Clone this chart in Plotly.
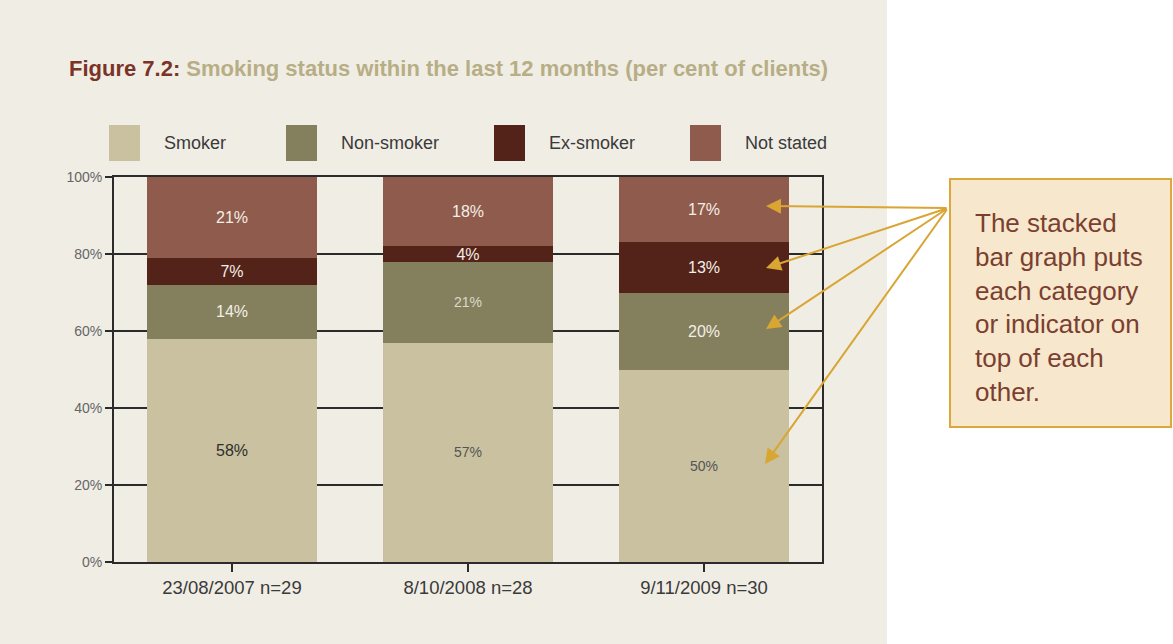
import plotly.graph_objects as go

categories = ["23/08/2007 n=29", "8/10/2008 n=28", "9/11/2009 n=30"]
series_names = ["Smoker", "Non-smoker", "Ex-smoker", "Not stated"]
smoker = [58, 57, 50]
non_smoker = [14, 21, 20]
ex_smoker = [7, 4, 13]
not_stated = [21, 18, 17]
y_ticks = [0, 20, 40, 60, 80, 100]
y_tick_labels = ["0%", "20%", "40%", "60%", "80%", "100%"]

colors = ["#c9c19f", "#84805d", "#53231a", "#8f5b4d"]
label_sizes = [[16, 14, 14], [16, 14, 16], [16, 16, 16], [16, 16, 16]]
label_colors = [["#2e2e2e", "#555555", "#555555"],
                ["#f3efe6", "#dcd8cc", "#f3efe6"],
                ["#f3efe6", "#f3efe6", "#f3efe6"],
                ["#f3efe6", "#f3efe6", "#f3efe6"]]
values = [smoker, non_smoker, ex_smoker, not_stated]

W, H = 1173, 644
L, R, T, B = 114, 822, 177, 562
pw, ph = R - L, B - T


def px(x):
    return (x - L) / pw


def py(y):
    return (B - y) / ph


fig = go.Figure()
for name, vals, col, sz, lc in zip(series_names, values, colors, label_sizes, label_colors):
    fig.add_trace(go.Bar(
        x=categories, y=vals, name=name, marker=dict(color=col, line=dict(width=0)),
        width=0.72, text=[f"{v}%" for v in vals], textposition="inside",
        insidetextanchor="middle", textangle=0, constraintext="none",
        textfont=dict(size=sz, color=lc, family="Liberation Sans, Arial"),
        showlegend=False, hoverinfo="skip"))

shapes = [
    # beige panel
    dict(type="rect", xref="paper", yref="paper", x0=px(0), x1=px(887), y0=py(644), y1=py(0),
         fillcolor="#f0ede5", line=dict(width=0), layer="below"),
    # callout box
    dict(type="rect", xref="paper", yref="paper", x0=px(950), x1=px(1171), y0=py(427), y1=py(179),
         fillcolor="#f6e7cd", line=dict(color="#dca83c", width=2), layer="above"),
]

annotations = []
# title
annotations.append(dict(
    xref="paper", yref="paper", x=px(67), y=py(68), xanchor="left", yanchor="middle",
    showarrow=False,
    text="<b><span style='color:#7b3328'>Figure 7.2:</span> Smoking status within the last 12 months (per cent of clients)</b>",
    font=dict(size=22, color="#b7ae85", family="Liberation Sans, Arial")))

# legend
leg_x = [109, 286, 494, 690]
for name, col, lx in zip(series_names, colors, leg_x):
    shapes.append(dict(type="rect", xref="paper", yref="paper", x0=px(lx), x1=px(lx + 31),
                       y0=py(161), y1=py(125), fillcolor=col, line=dict(width=0)))
    annotations.append(dict(xref="paper", yref="paper", x=px(lx + 53), y=py(143),
                            xanchor="left", yanchor="middle", showarrow=False, text=name,
                            font=dict(size=18, color="#3a3a3a", family="Liberation Sans, Arial")))

# callout text
annotations.append(dict(
    xref="paper", yref="paper", x=px(973), y=py(307), xanchor="left", yanchor="middle",
    align="left", showarrow=False,
    text="The stacked<br>bar graph puts<br>each category<br>or indicator on<br>top of each<br>other.",
    font=dict(size=26, color="#7b3f2f", family="Liberation Sans, Arial")))

# arrows
tail = (948, 208)
heads = [(766, 206), (766, 268), (766, 329), (765, 464)]
for hx, hy in heads:
    annotations.append(dict(
        xref="paper", yref="paper", x=px(hx), y=py(hy), ax=tail[0] - hx, ay=tail[1] - hy,
        text="", showarrow=True, arrowhead=2, arrowsize=1.5, arrowwidth=2,
        arrowcolor="#d9a533", standoff=0, startstandoff=0))

fig.update_layout(
    barmode="stack", bargap=0.28,
    width=W, height=H,
    margin=dict(l=L, r=W - R, t=T, b=H - B, pad=0),
    paper_bgcolor="#ffffff", plot_bgcolor="#f0ede5",
    shapes=shapes, annotations=annotations,
    font=dict(family="Liberation Sans, Arial", color="#3a3a3a"),
)
fig.update_xaxes(
    showline=True, linecolor="#2b2b2b", linewidth=2, mirror=True,
    ticks="outside", ticklen=8, tickcolor="#2b2b2b", tickwidth=2,
    tickfont=dict(size=18.5, color="#3a3a3a"), showgrid=False, range=[-0.5, 2.5])
fig.update_yaxes(
    range=[0, 100], tickvals=y_ticks, ticktext=y_tick_labels,
    showline=True, linecolor="#2b2b2b", linewidth=2, mirror=True,
    ticks="outside", ticklen=7, tickcolor="#2b2b2b", tickwidth=2,
    showgrid=True, gridcolor="#2b2b2b", gridwidth=1.5, zeroline=False,
    tickfont=dict(size=14, color="#666666"))

fig.write_html("out.html", config={"displayModeBar": False},
               post_script="document.body.style.margin='0';")
